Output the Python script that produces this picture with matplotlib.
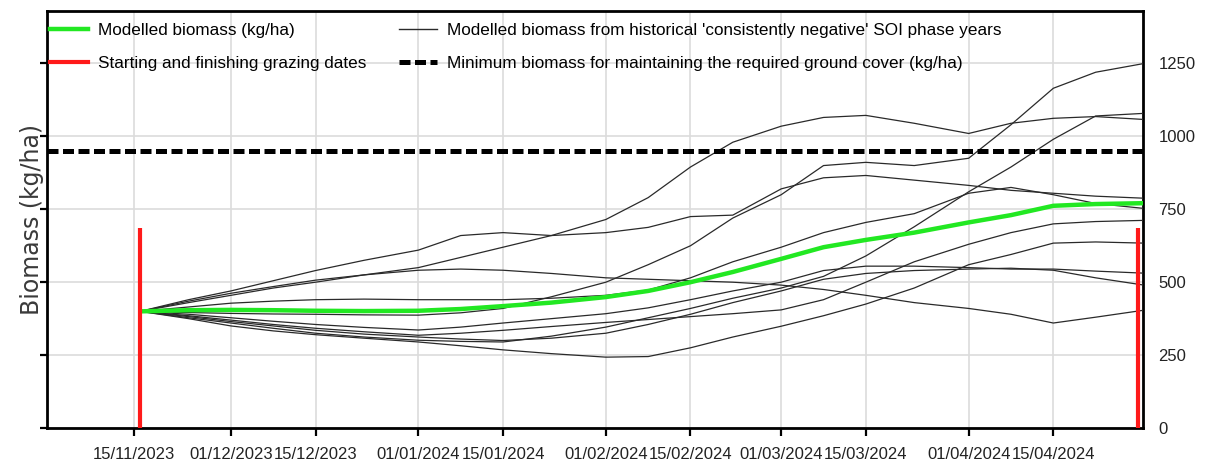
import matplotlib
matplotlib.use("Agg")
import matplotlib.pyplot as plt
import matplotlib.dates as mdates
from matplotlib.lines import Line2D
import pandas as pd

# ---------------- data ----------------
dates = ['2023-11-16', '2023-11-24', '2023-12-01', '2023-12-08', '2023-12-15', '2023-12-23',
         '2024-01-01', '2024-01-08', '2024-01-15', '2024-01-23', '2024-02-01', '2024-02-08',
         '2024-02-15', '2024-02-22', '2024-03-01', '2024-03-08', '2024-03-15', '2024-03-23',
         '2024-04-01', '2024-04-08', '2024-04-15', '2024-04-22', '2024-04-30']

modelled = [400, 404, 405, 404, 402, 401, 402, 408, 418, 430, 449, 470,
            500, 535, 580, 620, 645, 670, 705, 730, 762, 768, 771]

hist_years = {
    'L1':   [400, 430, 455, 480, 500, 525, 550, 585, 620, 660, 715, 790,
             895, 980, 1035, 1065, 1072, 1045, 1010, 1045, 1062, 1068, 1058],
    'L2':   [400, 440, 470, 505, 540, 575, 610, 660, 670, 660, 670, 688,
             725, 730, 820, 858, 866, 850, 832, 815, 805, 795, 788],
    'L3':   [400, 435, 462, 485, 507, 525, 541, 545, 541, 530, 515, 510,
             505, 500, 490, 475, 455, 430, 410, 390, 360, 380, 404],
    'V':    [400, 415, 428, 435, 440, 442, 440, 440, 440, 445, 455, 473,
             515, 570, 620, 670, 705, 735, 805, 825, 800, 770, 753],
    'A':    [400, 396, 393, 391, 390, 388, 387, 395, 410, 450, 500, 560,
             625, 720, 800, 900, 911, 900, 925, 1040, 1165, 1220, 1250],
    'Q':    [400, 385, 370, 355, 342, 330, 318, 325, 335, 348, 362, 372,
             382, 392, 405, 440, 500, 570, 630, 670, 700, 708, 712],
    'R':    [400, 390, 378, 366, 355, 345, 336, 346, 360, 375, 392, 412,
             440, 470, 500, 540, 555, 555, 550, 545, 545, 538, 531],
    'S':    [400, 382, 365, 350, 335, 322, 312, 305, 300, 308, 325, 355,
             390, 430, 470, 510, 530, 540, 545, 548, 541, 515, 490],
    'X':    [400, 378, 360, 342, 325, 312, 301, 297, 295, 315, 346, 378,
             410, 445, 480, 520, 590, 690, 810, 895, 990, 1070, 1079],
    'Low':  [400, 375, 350, 333, 320, 308, 295, 282, 268, 255, 243, 245,
             275, 312, 349, 385, 425, 480, 560, 595, 634, 638, 634],
}

min_biomass = 950
grazing_dates = ['2023-11-16', '2024-04-29']
grazing_bar_height = 685

x_ticks = ['2023-11-15', '2023-12-01', '2023-12-15', '2024-01-01', '2024-01-15', '2024-02-01',
           '2024-02-15', '2024-03-01', '2024-03-15', '2024-04-01', '2024-04-15']
y_ticks = [0, 250, 500, 750, 1000, 1250]

legend_labels = ['Modelled biomass (kg/ha)',
                 'Starting and finishing grazing dates',
                 "Modelled biomass from historical 'consistently negative' SOI phase years",
                 'Minimum biomass for maintaining the required ground cover (kg/ha)']

# ---------------- plot ----------------
plt.rcParams['font.family'] = ['Liberation Sans', 'DejaVu Sans']

W, H = 1214, 465
fig = plt.figure(figsize=(W / 100, H / 100), dpi=100)
ax = fig.add_axes([47 / W, (H - 428) / H, (1143 - 47) / W, (428 - 11) / H])

d = pd.to_datetime(dates)
black = '#2a2a2a'
green = '#22e822'
red = '#ff1a1a'

for name, vals in hist_years.items():
    ax.plot(d, vals, color=black, lw=0.9, zorder=3)

ax.axhline(min_biomass, color='black', lw=3.6, dashes=(2.2, 0.9), zorder=4)
ax.plot(d, modelled, color=green, lw=3.2, zorder=5, solid_capstyle='butt')
for gd in pd.to_datetime(grazing_dates):
    ax.plot([gd, gd], [0, grazing_bar_height], color=red, lw=3.0, zorder=6,
            solid_capstyle='butt')

ax.set_xlim(pd.Timestamp('2023-10-31 14:00'), pd.Timestamp('2024-04-29 20:00'))
ax.set_ylim(0, 1430)
ax.set_xticks(pd.to_datetime(x_ticks))
ax.xaxis.set_major_formatter(mdates.DateFormatter('%d/%m/%Y'))
ax.set_yticks(y_ticks)

ax.grid(True, color='#dcdcdc', lw=1.2, zorder=0)
ax.set_axisbelow(True)

for s in ax.spines.values():
    s.set_linewidth(2.0)
    s.set_color('black')

ax.tick_params(axis='x', direction='out', length=5.5, width=1.6, pad=8,
               labelsize=12, colors='black', labelcolor='#222222')
ax.tick_params(axis='y', direction='out', length=5, width=1.6, left=True, right=False,
               labelleft=False, labelright=True, pad=6, labelsize=12,
               labelcolor='#222222')

ax.set_ylabel('Biomass (kg/ha)', family='DejaVu Sans', fontsize=17, color='#3a3a3a',
              labelpad=-3)

handles = [Line2D([], [], color=green, lw=3.2),
           Line2D([], [], color=red, lw=3.0),
           Line2D([], [], color=black, lw=1.0),
           Line2D([], [], color='black', lw=3.6, dashes=(2.2, 0.9))]
leg = ax.legend(handles, legend_labels, ncol=2, loc='upper left',
                bbox_to_anchor=(0.003, 0.971), frameon=False, fontsize=12.3,
                handlelength=2.2, handletextpad=0.6, labelspacing=1.05,
                columnspacing=1.9, borderpad=0, borderaxespad=0)
leg.set_zorder(10)

fig.savefig('out.png', dpi=100)
